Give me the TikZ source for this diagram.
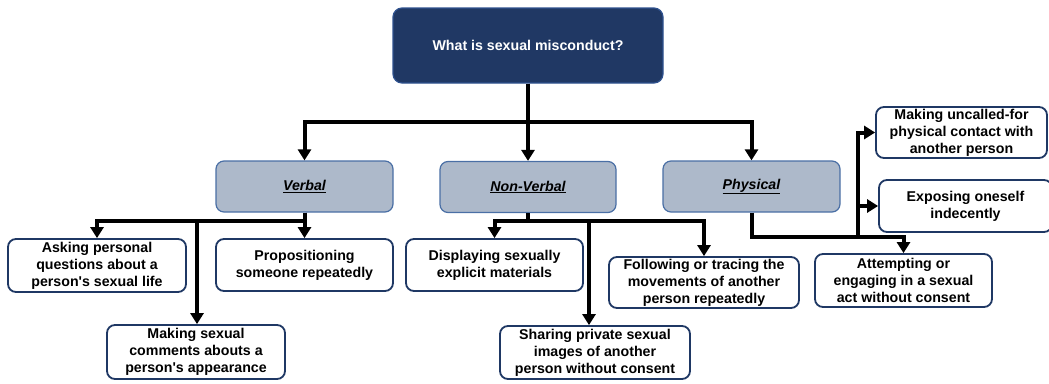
\documentclass[tikz,border=0pt]{standalone}
\usepackage{fontspec}
\setmainfont{Liberation Sans}
\usetikzlibrary{arrows.meta}
\definecolor{navy}{HTML}{203864}
\definecolor{navyedge}{HTML}{2F528F}
\definecolor{catfill}{HTML}{ADB9CA}
\definecolor{catedge}{HTML}{4A6FA5}
\definecolor{leafedge}{HTML}{1F3864}
\newcommand{\apos}{\textquotesingle}
\tikzset{
  topbox/.style={draw=navyedge, fill=navy, line width=1.2pt, rounded corners=9pt,
    minimum width=270pt, minimum height=75pt, inner sep=0pt, text=white,
    font=\fontsize{14.2}{17}\selectfont\bfseries, align=center},
  catbox/.style={draw=catedge, fill=catfill, line width=1.2pt, rounded corners=8pt,
    minimum height=51pt, inner sep=0pt, font=\fontsize{14.2}{17}\selectfont\bfseries\itshape, align=center},
  leafbox/.style={draw=leafedge, fill=white, line width=1.8pt, rounded corners=8pt,
    inner sep=0pt, font=\fontsize{14.2}{17}\selectfont\bfseries, align=center},
  arr/.style={line width=4pt, -{Triangle[width=13pt,length=11pt]}},
}
\begin{document}
\begin{tikzpicture}[x=1pt,y=-1pt]
\useasboundingbox (0,0) rectangle (1049,383);
% top
\node[topbox] (top) at (528,45.5) {What is sexual misconduct?};
% categories
\node[catbox, minimum width=177pt] (verbal) at (304.5,186.5) {\underline{Verbal}};
\node[catbox, minimum width=176pt] (nonverbal) at (528,187) {\underline{Non-Verbal}};
\node[catbox, minimum width=177pt] (physical) at (751.5,186.5) {\underline{Physical}};
% leaves
\node[leafbox, minimum width=178pt, minimum height=53pt] (asking) at (97,265.5) {Asking personal\\questions about a\\person\apos s sexual life};
\node[leafbox, minimum width=177pt, minimum height=52pt] (propos) at (304.5,265) {Propositioning\\someone repeatedly};
\node[leafbox, minimum width=178pt, minimum height=54pt] (making) at (196,352) {Making sexual\\comments abouts a\\person\apos s appearance};
\node[leafbox, minimum width=177pt, minimum height=52pt] (display) at (494.5,265) {Displaying sexually\\explicit materials};
\node[leafbox, minimum width=190pt, minimum height=53pt] (sharing) at (595,352.5) {Sharing private sexual\\images of another\\person without consent};
\node[leafbox, minimum width=190pt, minimum height=51pt] (follow) at (704,282.5) {Following or tracing the\\movements of another\\person repeatedly};
\node[leafbox, minimum width=171pt, minimum height=51pt] (uncalled) at (961.5,132.5) {Making uncalled-for\\physical contact with\\another person};
\node[leafbox, minimum width=173pt, minimum height=52pt] (expose) at (965.5,206) {Exposing oneself\\indecently};
\node[leafbox, minimum width=177pt, minimum height=53pt] (attempt) at (903.5,280.5) {Attempting or\\engaging in a sexual\\act without consent};
% connectors: top level
\coordinate (tbar) at (528,122);
\draw[arr] (top.south) -- (tbar) -| (verbal.north);
\draw[arr] (top.south) -- (nonverbal.north);
\draw[arr] (tbar) -| (physical.north);
% verbal
\coordinate (vbar) at (304.5,221);
\coordinate (vmid) at (197,221);
\draw[arr] (verbal.south) -- (vbar) -| (asking.north);
\draw[arr] (verbal.south) -- (propos.north);
\draw[arr] (vmid) -- (vmid |- making.north);
% non-verbal
\coordinate (nbar) at (528,221);
\coordinate (nmid) at (589,221);
\draw[arr] (nonverbal.south) -- (nbar) -| (display.north);
\draw[arr] (nbar) -| (follow.north);
\draw[arr] (nmid) -- (nmid |- sharing.north);
% physical
\coordinate (pbar) at (751.5,237);
\coordinate (pj) at (858,237);
\draw[arr] (physical.south) -- (pbar) -| (attempt.north);
\draw[arr] (pj) |- (uncalled.west);
\draw[arr] (pj) |- (expose.west);
\end{tikzpicture}
\end{document}
